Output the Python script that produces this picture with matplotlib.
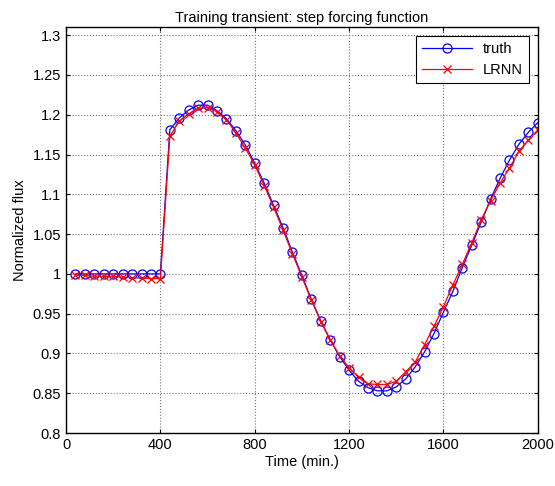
import matplotlib.pyplot as plt
import numpy as np

plt.rcParams['font.family'] = ['Liberation Sans', 'DejaVu Sans']

# time in minutes, sampled every 40 min
time = list(range(40, 2001, 40))

truth = [1.000, 1.000, 1.000, 1.000, 1.000, 1.000, 1.000, 1.000, 1.000, 1.000,
         1.181, 1.196, 1.206, 1.212, 1.212, 1.205, 1.195, 1.180, 1.162, 1.139,
         1.114, 1.086, 1.058, 1.027, 0.998, 0.968, 0.941, 0.917, 0.896, 0.879,
         0.865, 0.857, 0.853, 0.853, 0.858, 0.868, 0.883, 0.902, 0.925, 0.952,
         0.978, 1.008, 1.036, 1.065, 1.094, 1.120, 1.143, 1.163, 1.178, 1.190]

lrnn = [0.998, 0.998, 0.997, 0.997, 0.997, 0.996, 0.995, 0.995, 0.994, 0.994,
        1.173, 1.192, 1.201, 1.208, 1.209, 1.204, 1.194, 1.177, 1.158, 1.137,
        1.111, 1.084, 1.055, 1.025, 0.996, 0.967, 0.940, 0.917, 0.897, 0.882,
        0.870, 0.862, 0.861, 0.861, 0.865, 0.877, 0.889, 0.911, 0.934, 0.959,
        0.986, 1.012, 1.039, 1.068, 1.092, 1.114, 1.133, 1.154, 1.168, 1.181]

xticks = [0, 400, 800, 1200, 1600, 2000]
yticks = [0.8, 0.85, 0.9, 0.95, 1.0, 1.05, 1.1, 1.15, 1.2, 1.25, 1.3]
ytick_labels = ['0.8', '0.85', '0.9', '0.95', '1', '1.05', '1.1', '1.15', '1.2', '1.25', '1.3']

fig = plt.figure(figsize=(5.55, 4.86), dpi=100)
ax = fig.add_axes([0.119, 0.109, 0.850, 0.835])

ax.plot(time, truth, color='blue', lw=0.9, marker='o', ms=6.5, mfc='none',
        mec='blue', mew=0.9, label='truth')
ax.plot(time, lrnn, color='red', lw=0.9, marker='x', ms=6, mec='red',
        mew=0.9, label='LRNN')

ax.set_xlim(0, 2000)
ax.set_ylim(0.8, 1.31)
ax.set_xticks(xticks)
ax.set_yticks(yticks)
ax.set_yticklabels(ytick_labels)
ax.tick_params(direction='in', top=True, right=True, labelsize=10.5, length=3)
ax.grid(True, linestyle=':', color='#777777', lw=0.8)
for s in ax.spines.values():
    s.set_linewidth(1.0)

ax.set_title('Training transient: step forcing function', fontsize=10.5, pad=4)
ax.set_xlabel('Time (min.)', fontsize=10.5, labelpad=2)
ax.set_ylabel('Normalized flux', fontsize=10.5, labelpad=4)

leg = ax.legend(loc='upper right', fontsize=10.5, fancybox=False,
                edgecolor='black', framealpha=1, handlelength=3.4,
                borderaxespad=0.6)
leg.get_frame().set_linewidth(0.8)

fig.savefig('out.png', dpi=100)
